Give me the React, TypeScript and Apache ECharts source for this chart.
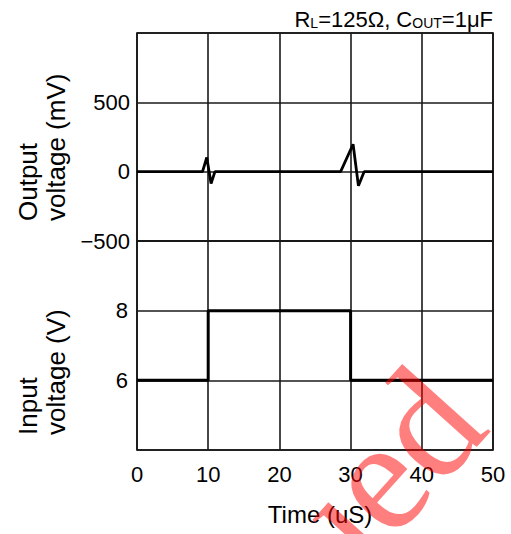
import React, { useEffect, useRef } from "react";
import * as echarts from "echarts";

const timeTicks = [0, 10, 20, 30, 40, 50];
const outputTime = [0, 9.2, 9.8, 10.4, 10.95, 28.6, 30.35, 31.1, 31.9, 50];
const outputMv = [0, 0, 102, -85, 0, 0, 198, -102, 0, 0];
const inputTime = [0, 10, 10, 30, 30, 50];
const inputV = [6, 6, 8, 8, 6, 6];
const outputTickLabels = [-500, 0, 500];
const inputTickLabels = [6, 8];

const FONT = "Liberation Sans, Arial, Helvetica, sans-serif";

export default function App() {
  const ref = useRef<HTMLDivElement>(null);
  useEffect(() => {
    if (!ref.current) return;
    const chart = echarts.init(ref.current, null, { renderer: "svg" });
    const gridLine = { lineStyle: { color: "#1a1a1a", width: 1.6 } };
    const xBase = {
      type: "value" as const,
      min: timeTicks[0],
      max: timeTicks[timeTicks.length - 1],
      interval: 10,
      axisLine: { show: false },
      axisTick: { show: false },
      splitLine: { show: true, ...gridLine },
    };
    chart.setOption({
      animation: false,
      backgroundColor: "#fff",
      grid: [
        { left: 137, top: 33, width: 356, height: 208, show: true, borderColor: "#000", borderWidth: 1.6, backgroundColor: "transparent" },
        { left: 137, top: 241, width: 356, height: 209, show: true, borderColor: "#000", borderWidth: 1.6, backgroundColor: "transparent" },
      ],
      xAxis: [
        { ...xBase, gridIndex: 0, axisLabel: { show: false } },
        {
          ...xBase,
          gridIndex: 1,
          axisLabel: {
            show: true,
            fontSize: 22,
            color: "#000",
            fontFamily: FONT,
            margin: 13,
            formatter: (v: number) => (timeTicks.includes(v) ? String(v) : ""),
          },
          name: "Time (uS)",
          nameLocation: "middle",
          nameGap: 52,
          nameTextStyle: { fontSize: 24, color: "#000", fontFamily: FONT, padding: [0, 0, 0, 10] },
        },
      ],
      yAxis: [
        {
          type: "value",
          gridIndex: 0,
          min: -500,
          max: 1000,
          interval: 500,
          axisLine: { show: false },
          axisTick: { show: false },
          splitLine: { show: true, ...gridLine },
          axisLabel: {
            fontSize: 22,
            color: "#000",
            fontFamily: FONT,
            margin: 7,
            formatter: (v: number) =>
              outputTickLabels.includes(v) ? (v < 0 ? "\u2212" + Math.abs(v) : String(v)) : "",
          },
        },
        {
          type: "value",
          gridIndex: 1,
          min: 4,
          max: 10,
          interval: 2,
          axisLine: { show: false },
          axisTick: { show: false },
          splitLine: { show: true, ...gridLine },
          axisLabel: {
            fontSize: 22,
            color: "#000",
            fontFamily: FONT,
            margin: 9,
            formatter: (v: number) => (inputTickLabels.includes(v) ? String(v) : ""),
          },
        },
      ],
      series: [
        {
          type: "line",
          xAxisIndex: 0,
          yAxisIndex: 0,
          data: outputTime.map((t, i) => [t, outputMv[i]]),
          showSymbol: false,
          lineStyle: { color: "#000", width: 2.8 },
          z: 5,
        },
        {
          type: "line",
          xAxisIndex: 1,
          yAxisIndex: 1,
          data: inputTime.map((t, i) => [t, inputV[i]]),
          showSymbol: false,
          lineStyle: { color: "#000", width: 3 },
          z: 5,
        },
      ],
      graphic: [
        {
          type: "text",
          x: 493,
          y: 30,
          style: {
            text: "{a|R}{s|L}{a|=125\u03A9, C}{s|OUT}{a|=1\u03BCF}",
            align: "right",
            verticalAlign: "bottom",
            rich: {
              a: { fontSize: 22, fontFamily: FONT, fill: "#000", verticalAlign: "bottom", lineHeight: 22 },
              s: { fontSize: 14, fontFamily: FONT, fill: "#000", verticalAlign: "bottom", lineHeight: 14 },
            },
          },
        },
        {
          type: "text",
          x: 42,
          y: 221,
          rotation: Math.PI / 2,
          style: {
            text: "Output\nvoltage (mV)",
            fontSize: 26,
            lineHeight: 28,
            fontFamily: FONT,
            fill: "#000",
            align: "left",
            verticalAlign: "middle",
          },
        },
        {
          type: "text",
          x: 42,
          y: 435,
          rotation: Math.PI / 2,
          style: {
            text: "Input\nvoltage (V)",
            fontSize: 26,
            lineHeight: 28,
            fontFamily: FONT,
            fill: "#000",
            align: "left",
            verticalAlign: "middle",
          },
        },
        {
          type: "text",
          x: 492,
          y: 430,
          rotation: (48 * Math.PI) / 180,
          z: 100,
          style: {
            text: "Discontinued",
            fontSize: 160,
            fontFamily: "Liberation Serif",
            fill: "rgba(255,0,0,0.5)",
            align: "right",
            verticalAlign: "middle",
            y: -54,
          },
        },
      ],
    });
    return () => chart.dispose();
  }, []);
  return (
    <div
      ref={ref}
      style={{ position: "absolute", left: 0, top: 0, width: 511, height: 534 }}
    />
  );
}
